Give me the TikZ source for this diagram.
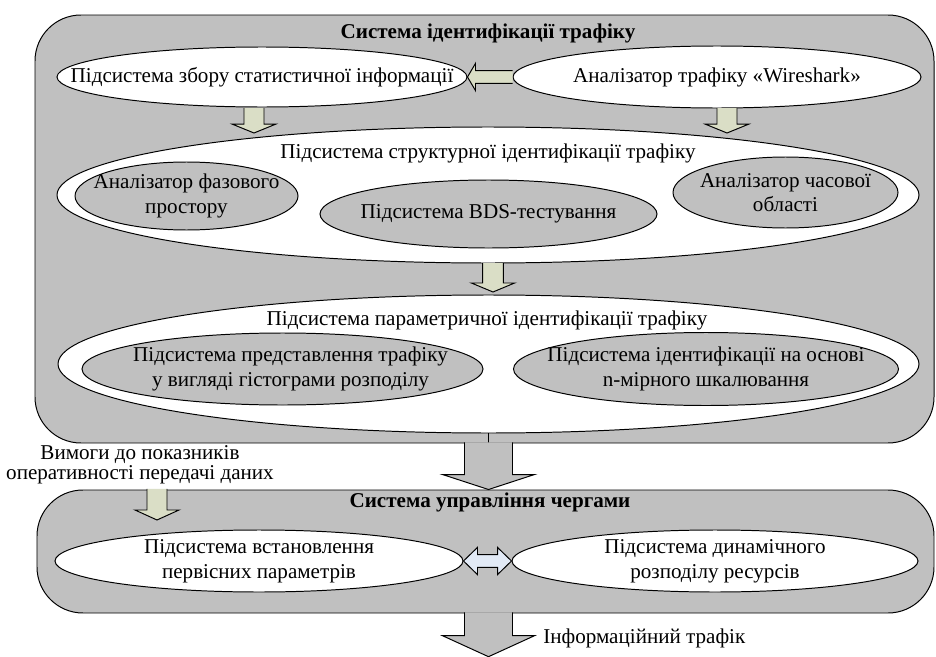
\documentclass[tikz,border=0pt]{standalone}
\usepackage{fontspec}
\setmainfont{Liberation Serif}
\usepackage{tikz}
\usetikzlibrary{arrows.meta, positioning, shapes.geometric, calc}
\usepackage{xcolor}

\definecolor{boxgray}{RGB}{192,192,192}
\definecolor{arrowgreen}{RGB}{218,222,198}
\definecolor{arrowblue}{RGB}{226,234,246}

% block arrow: [style]{from}{to}{shaft half width}{head half width}{head length}
\newcommand{\blockarrow}[6][]{%
  \filldraw[flow,#1] let \p1=($(#3)-(#2)$), \n1={atan2(\y1,\x1)}, \n2={veclen(\x1,\y1)} in
    [shift={(#2)}, rotate=\n1]
    (0,-#4) -- ({\n2-#6},-#4) -- ({\n2-#6},-#5) -- (\n2,0) -- ({\n2-#6},#5) -- ({\n2-#6},#4) -- (0,#4);
}
\newcommand{\blockdouble}[6][]{%
  \filldraw[flow,#1] let \p1=($(#3)-(#2)$), \n1={atan2(\y1,\x1)}, \n2={veclen(\x1,\y1)} in
    [shift={(#2)}, rotate=\n1]
    (0,0) -- (#6,#5) -- (#6,#4) -- ({\n2-#6},#4) -- ({\n2-#6},#5) -- (\n2,0)
    -- ({\n2-#6},-#5) -- ({\n2-#6},-#4) -- (#6,-#4) -- (#6,-#5) -- cycle;
}

\begin{document}
\begin{tikzpicture}[
  sysbox/.style={draw, fill=boxgray, rounded corners=1.15cm, line width=0.7pt, inner sep=0pt},
  oval/.style={draw, ellipse, fill=white, line width=0.7pt, inner sep=0pt},
  suboval/.style={oval, fill=boxgray},
  txt/.style={align=center, inner sep=0pt, font=\fontsize{15}{17.5}\selectfont},
  title/.style={txt, font=\fontsize{15}{17.5}\selectfont\bfseries},
  flow/.style={draw, fill=arrowgreen, line width=0.7pt},
  bigflow/.style={fill=boxgray},
  swapflow/.style={fill=arrowblue}
]
\useasboundingbox (0,0) rectangle (23.4,-16.425);

% traffic identification system
\node[sysbox, minimum width=22.475cm, minimum height=10.7cm] (ident) at (12.1125,-5.725) {};
\node[title] (identt) at (12.2,-0.825) {Система ідентифікації трафіку};

\node[oval, minimum width=10.25cm, minimum height=1.5cm] (stats) at (6.55,-1.925) {};
\node[txt] (statst) at (stats) {Підсистема збору статистичної інформації};
\node[oval, minimum width=10.2cm, minimum height=1.55cm] (wire) at (17.925,-1.925) {};
\node[txt] (wiret) at (wire) {Аналізатор трафіку «Wireshark»};

\node[oval, minimum width=21.55cm, minimum height=3.4cm] (struct) at (12.2,-4.875) {};
\node[txt] (structt) at (12.2,-3.825) {Підсистема структурної ідентифікації трафіку};
\node[suboval, minimum width=5.575cm, minimum height=1.7cm] (phase) at (4.6625,-4.9) {};
\node[txt] (phaset) at (phase) {Аналізатор фазового\\простору};
\node[suboval, minimum width=8.425cm, minimum height=1.7cm] (bds) at (12.2125,-5.35) {};
\node[txt] (bdst) at (bds) {Підсистема BDS-тестування};
\node[suboval, minimum width=5.625cm, minimum height=1.775cm] (time) at (19.6375,-4.8125) {};
\node[txt] (timet) at (time) {Аналізатор часової\\області};

\node[oval, minimum width=21.525cm, minimum height=3.45cm] (param) at (12.2125,-9.1) {};
\node[txt] (paramt) at (12.175,-8.0) {Підсистема параметричної ідентифікації трафіку};
\node[suboval, minimum width=10.025cm, minimum height=1.8cm] (hist) at (7.0625,-9.225) {};
\node[txt] (histt) at ([xshift=0.2cm]hist.center) {Підсистема представлення трафіку\\у вигляді гістограми розподілу};
\node[suboval, minimum width=9.625cm, minimum height=1.825cm] (ndim) at (17.65,-9.225) {};
\node[txt] (ndimt) at (ndim) {Підсистема ідентифікації на основі\\n-мірного шкалювання};

% queue management system
\node[sysbox, minimum width=22.425cm, minimum height=3.075cm] (queue) at (12.1375,-13.7875) {};
\node[title] (queuet) at (12.25,-12.55) {Система управління чергами};
\node[oval, minimum width=10.2cm, minimum height=1.55cm] (setup) at (6.475,-14.025) {};
\node[txt] (setupt) at (setup) {Підсистема встановлення\\первісних параметрів};
\node[oval, minimum width=10.15cm, minimum height=1.55cm] (dyn) at (17.875,-14.025) {};
\node[txt] (dynt) at (dyn) {Підсистема динамічного\\розподілу ресурсів};

\node[txt, font=\fontsize{15}{14.5}\selectfont] (req) at (3.5,-11.62) {Вимоги до показників\\оперативності передачі даних};
\node[txt, anchor=west] (traffic) at (13.575,-15.95) {Інформаційний трафік};

% arrow ends
\coordinate (s1) at (6.35,-2.7);
\coordinate (e1) at (6.35,-3.325);
\coordinate (s2) at (18.175,-2.7);
\coordinate (e2) at (18.175,-3.325);
\coordinate (s3) at (12.325,-6.575);
\coordinate (e3) at (12.325,-7.3);
\coordinate (s4) at ($(param.south |- ident.south)+(0,0.03)$);
\coordinate (e4) at (param.south |- queue.north);
\coordinate (s5) at ($(param.south |- queue.south)+(0,0.03)$);
\coordinate (e5) at ($(param.south |- queue.south)+(0,-1.08)$);
\coordinate (s6) at (3.925,-12.22);
\coordinate (e6) at (3.925,-13.0);

\draw[line width=0.7pt] (param.south) -- (param.south |- ident.south);

\blockarrow{wire.west}{stats.east}{0.16cm}{0.34cm}{0.2cm}
\blockarrow{s1}{e1}{0.25cm}{0.54cm}{0.22cm}
\blockarrow{s2}{e2}{0.25cm}{0.54cm}{0.22cm}
\blockarrow{s3}{e3}{0.26cm}{0.54cm}{0.225cm}
\blockarrow[bigflow]{s4}{e4}{0.6cm}{1.15cm}{0.375cm}
\blockarrow[bigflow]{s5}{e5}{0.6cm}{1.15cm}{0.525cm}
\blockarrow{s6}{e6}{0.25cm}{0.55cm}{0.25cm}
\blockdouble[swapflow]{setup.east}{dyn.west}{0.16cm}{0.34cm}{0.35cm}
\end{tikzpicture}
\end{document}
